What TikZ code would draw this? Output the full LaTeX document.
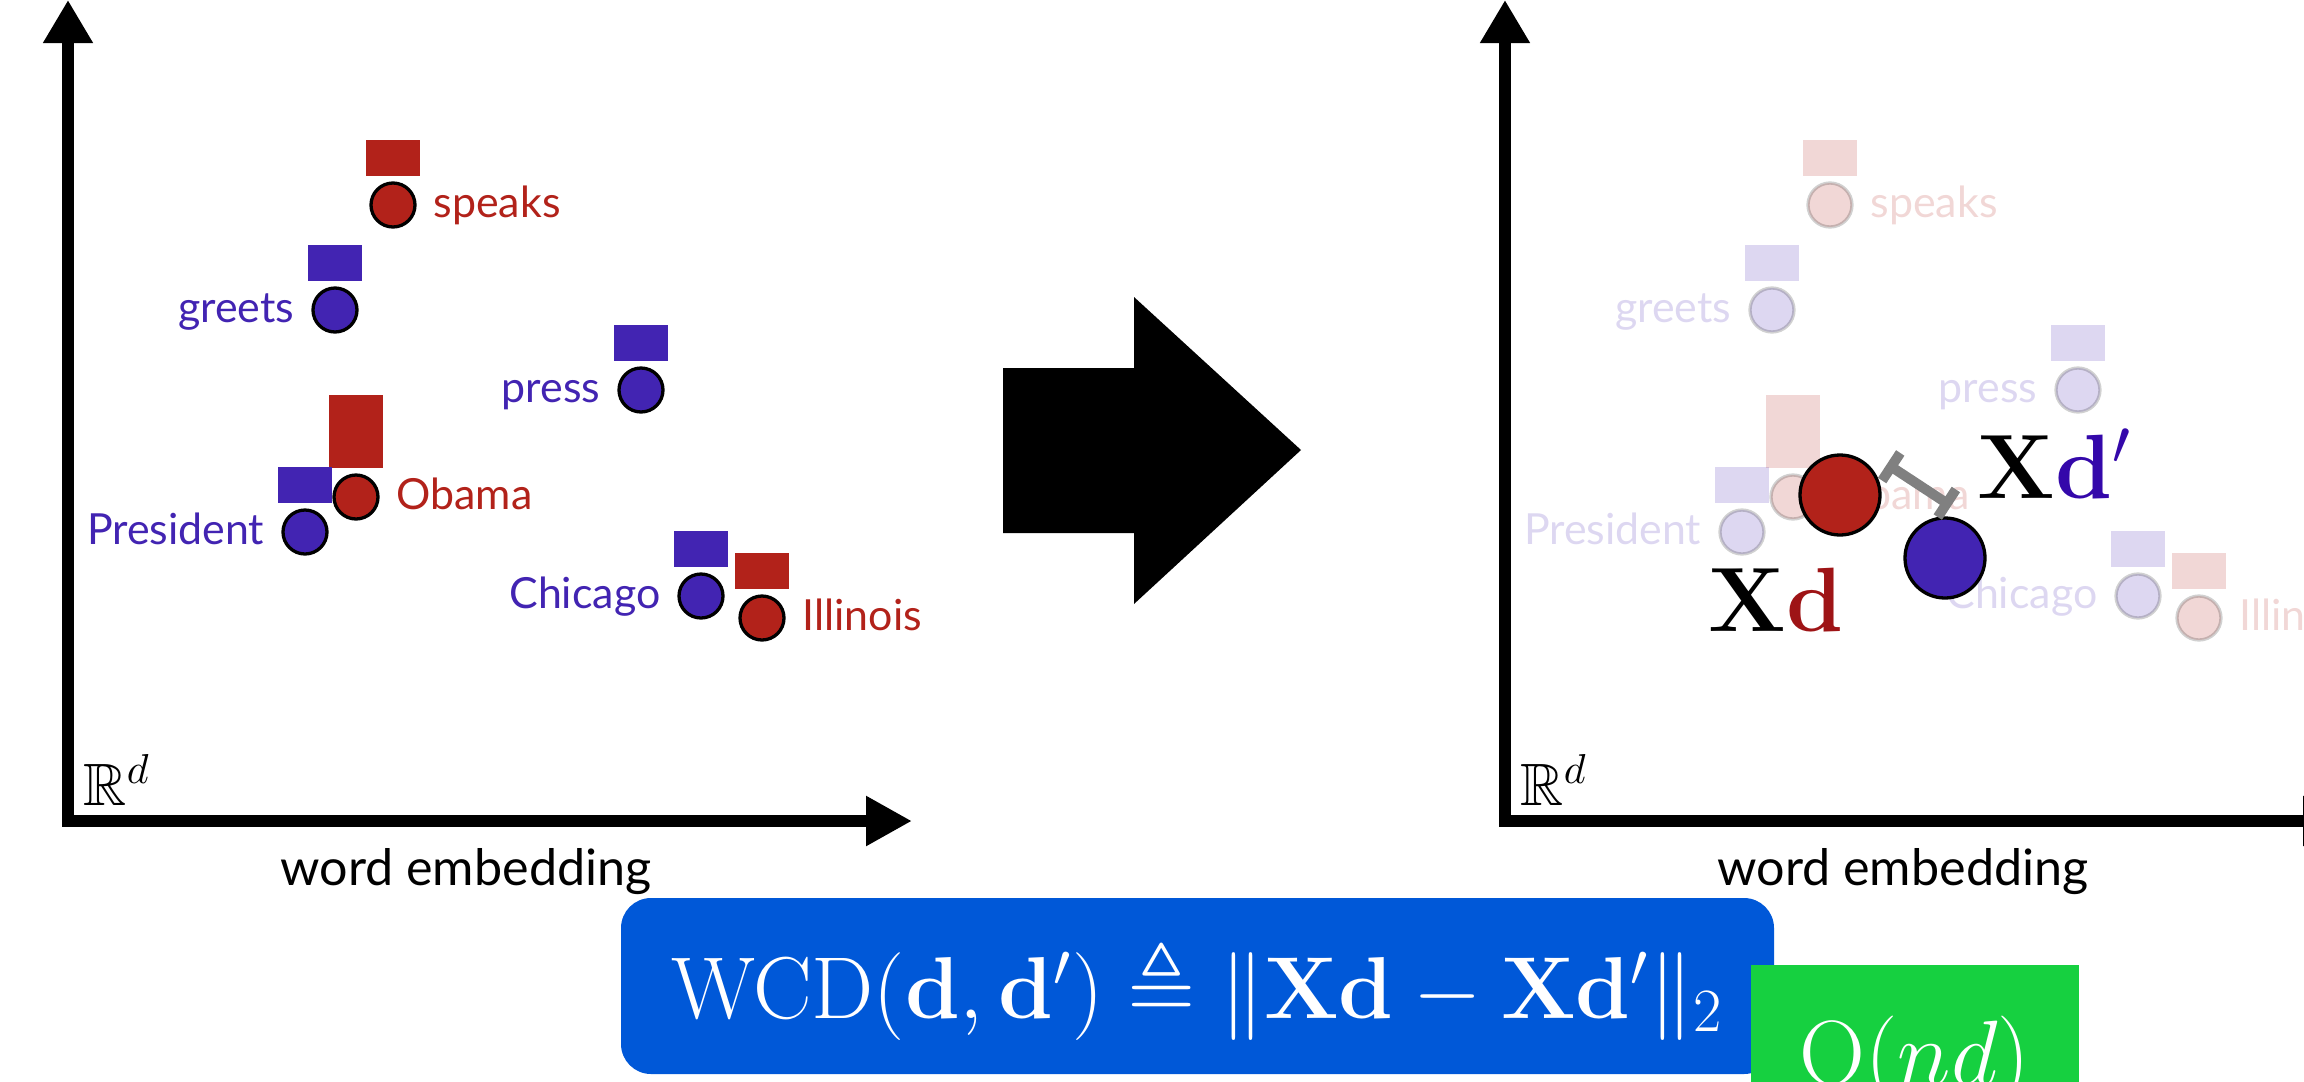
\RequirePackage{fix-cm}
\documentclass[tikz,border=0pt]{standalone}
\usepackage{amsmath,amssymb}
\usepackage[no-math]{fontspec}
\newfontfamily\gillfont{Lato}
\usepackage{tikz}
\usetikzlibrary{arrows.meta}
\definecolor{wred}{RGB}{178,34,26}
\definecolor{wblue}{RGB}{66,36,178}
\definecolor{dred}{RGB}{158,20,22}
\definecolor{dblue}{RGB}{52,8,170}
\definecolor{boxblue}{RGB}{0,88,216}
\definecolor{boxgreen}{RGB}{22,208,64}
\definecolor{bargray}{RGB}{128,128,128}
% word / circle x / circle y / bar height / colour / label offset / label side
\def\wordlist{speaks/393/205/36/wred/40/west, greets/335/310/36/wblue/-40/east,
  press/641/390/36/wblue/-40/east, Obama/356/497/73/wred/40/west,
  President/305/532/36/wblue/-40/east, Chicago/701/596/36/wblue/-40/east,
  Illinois/762/618/36/wred/40/west}
\tikzset{
  embaxis/.style={line width=1.2mm,line join=miter,
    {Triangle[length=4.3mm,width=4.7mm]}-{Triangle[length=4.6mm,width=4.7mm]}},
  wdot/.style={circle,draw=black,line width=0.33mm,minimum size=4.4mm,inner sep=0pt,fill=#1},
  bigdot/.style={wdot=#1,minimum size=8mm},
  wlbl/.style={font=\gillfont\fontsize{12.2}{14}\selectfont,text=#1,inner sep=0pt},
  axlbl/.style={font=\gillfont\fontsize{14.3}{17}\selectfont,inner sep=0pt},
  spclbl/.style={font=\fontsize{17}{20}\selectfont,inner sep=0pt},
  xdlbl/.style={font=\fontsize{26}{30}\selectfont,inner sep=0pt},
  distbar/.style={draw=bargray,line width=1mm,{Bar[width=3.3mm]}-{Bar[width=3.3mm]}},
  wcdbox/.style={fill=boxblue,rounded corners=3mm,text=white,inner sep=0pt,
    text height=7.4mm,text depth=1mm,font=\fontsize{25}{30}\selectfont},
  costbox/.style={fill=boxgreen,text=white,inner sep=0pt,font=\fontsize{26}{30}\selectfont},
}
\begin{document}
\begin{tikzpicture}[x=0.1mm,y=-0.1mm]
  \useasboundingbox (0,0) rectangle (2304,1081);
  % left panel: word embedding space
  \coordinate (L-ytop) at (68,0);
  \coordinate (L-origin) at (68,821);
  \coordinate (L-xend) at (912,821);
  \draw[embaxis] (L-ytop) -- (L-origin) -- (L-xend);
  \node[spclbl,anchor=base west] (L-space) at (83,805) {$\mathbb{R}^d$};
  \node[axlbl,anchor=base] (L-xlbl) at (466,885) {word embedding};
  \foreach \w/\cx/\cy/\hh/\col/\dx/\anc in \wordlist{
    \fill[\col] (\cx-27,\cy-29) rectangle ++(54,-\hh);
    \node[wdot=\col] (L-\w) at (\cx,\cy) {};
    \node[wlbl=\col,anchor=base \anc] (L-\w-t) at (\cx+\dx,\cy+12) {\w};
  }
  % big arrow
  \fill (1003,368) -- (1134,368) -- (1134,297) -- (1301,450) -- (1134,604)
    -- (1134,533) -- (1003,533) -- cycle;
  % right panel: same space, documents as weighted centroids
  \begin{scope}[xshift=143.7mm]
    \coordinate (R-ytop) at (68,0);
    \coordinate (R-origin) at (68,821);
    \coordinate (R-xend) at (912,821);
    \draw[embaxis] (R-ytop) -- (R-origin) -- (R-xend);
    \node[spclbl,anchor=base west] (R-space) at (83,805) {$\mathbb{R}^d$};
    \node[axlbl,anchor=base] (R-xlbl) at (466,885) {word embedding};
    \begin{scope}[opacity=0.18]
      \foreach \w/\cx/\cy/\hh/\col/\dx/\anc in \wordlist{
        \fill[\col] (\cx-27,\cy-29) rectangle ++(54,-\hh);
        \node[wdot=\col] (R-\w) at (\cx,\cy) {};
        \node[wlbl=\col,anchor=base \anc] (R-\w-t) at (\cx+\dx,\cy+12) {\w};
      }
    \end{scope}
  \end{scope}
  \node[bigdot=wred] (xd) at (1840,495) {};
  \node[bigdot=wblue] (xdp) at (1945,558) {};
  \coordinate (gap-a) at (1887,464);
  \coordinate (gap-b) at (1951,506);
  \draw[distbar] (gap-a) -- (gap-b);
  \node[xdlbl,anchor=base west] (xd-t) at (1708,631)
    {$\mathbf{X}\textcolor{dred}{\mathbf{d}}$};
  \node[xdlbl,anchor=base west] (xdp-t) at (1977,498)
    {$\mathbf{X}\textcolor{dblue}{\mathbf{d}'}$};
  % bottom: distance and its cost
  \node[wcdbox,minimum width=115.3mm,minimum height=17.6mm] (wcd) at (1197.5,986)
    {$\mathrm{WCD}(\mathbf{d},\mathbf{d}')\triangleq\|\mathbf{X}\mathbf{d}-\mathbf{X}\mathbf{d}'\|_2$};
  \node[costbox,minimum width=32.8mm,minimum height=19.4mm] (cost) at (1915,1062)
    {$\mathrm{O}(nd)$};
\end{tikzpicture}
\end{document}
